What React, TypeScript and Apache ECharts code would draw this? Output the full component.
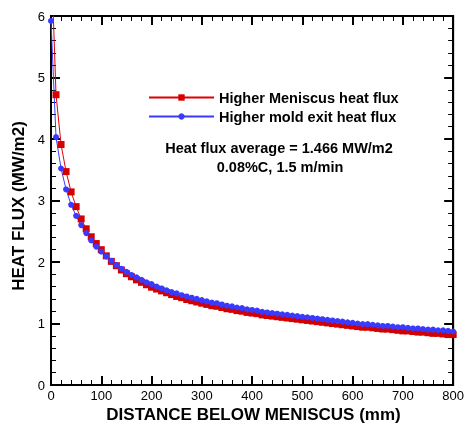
import React, { useEffect, useRef } from "react";
import * as echarts from "echarts";

const distance = [
  0, 10, 20, 30, 40, 50, 60, 70, 80, 90, 100, 110, 120, 130, 140, 150, 160, 170, 180, 190,
  200, 210, 220, 230, 240, 250, 260, 270, 280, 290, 300, 310, 320, 330, 340, 350, 360, 370, 380, 390,
  400, 410, 420, 430, 440, 450, 460, 470, 480, 490, 500, 510, 520, 530, 540, 550, 560, 570, 580, 590,
  600, 610, 620, 630, 640, 650, 660, 670, 680, 690, 700, 710, 720, 730, 740, 750, 760, 770, 780, 790, 800,
];

const meniscusFlux = [
  7.1, 4.72, 3.91, 3.47, 3.14, 2.9, 2.7, 2.54, 2.41, 2.3, 2.2, 2.1, 2.01, 1.94, 1.87, 1.81, 1.76, 1.71, 1.67, 1.63,
  1.59, 1.56, 1.53, 1.5, 1.47, 1.44, 1.42, 1.39, 1.37, 1.35, 1.33, 1.31, 1.29, 1.28, 1.26, 1.24, 1.23, 1.21, 1.2, 1.18,
  1.17, 1.16, 1.14, 1.13, 1.12, 1.11, 1.1, 1.09, 1.08, 1.07, 1.06, 1.05, 1.04, 1.03, 1.02, 1.01, 1.0, 0.99, 0.98, 0.97,
  0.96, 0.95, 0.94, 0.94, 0.93, 0.92, 0.91, 0.91, 0.9, 0.89, 0.88, 0.88, 0.87, 0.86, 0.86, 0.85, 0.84, 0.84, 0.83, 0.82, 0.82,
];

const moldExitFlux = [
  5.92, 4.03, 3.52, 3.18, 2.93, 2.75, 2.6, 2.47, 2.35, 2.25, 2.17, 2.09, 2.02, 1.95, 1.89, 1.84, 1.79, 1.75, 1.71, 1.67,
  1.64, 1.6, 1.57, 1.54, 1.51, 1.49, 1.46, 1.44, 1.42, 1.4, 1.38, 1.36, 1.34, 1.33, 1.31, 1.29, 1.28, 1.26, 1.25, 1.23,
  1.22, 1.21, 1.19, 1.18, 1.17, 1.16, 1.15, 1.14, 1.13, 1.12, 1.11, 1.1, 1.09, 1.08, 1.07, 1.06, 1.05, 1.04, 1.03, 1.02,
  1.01, 1.0, 0.99, 0.99, 0.98, 0.97, 0.96, 0.96, 0.95, 0.94, 0.94, 0.93, 0.92, 0.92, 0.91, 0.9, 0.9, 0.89, 0.89, 0.88, 0.87,
];

const seriesNames = ["Higher Meniscus heat flux", "Higher mold exit heat flux"];
const annotationLines = ["Heat flux average = 1.466 MW/m2", "0.08%C, 1.5 m/min"];
const xTitle = "DISTANCE BELOW MENISCUS (mm)";
const yTitle = "HEAT FLUX (MW/m2)";

const FONT = "'Liberation Sans', Arial, sans-serif";

function st() {
  return {
    axisLine: { show: true, onZero: false, lineStyle: { color: "#000", width: 2 } },
    axisTick: { show: true, inside: true, length: 9, lineStyle: { color: "#000", width: 2 } },
    minorTick: { show: true, splitNumber: 5, length: 5, lineStyle: { color: "#000", width: 1 } },
    splitLine: { show: false },
  };
}

const boldText = { fontFamily: FONT, fontWeight: "bold", fill: "#000" };

export default function App() {
  const ref = useRef<HTMLDivElement>(null);

  useEffect(() => {
    if (!ref.current) return;
    const chart = echarts.init(ref.current, undefined, { renderer: "svg" });

    chart.setOption({
      animation: false,
      grid: [
        {
          left: 51,
          top: 16,
          width: 405,
          height: 369,
          show: true,
          borderColor: "#000",
          borderWidth: 2,
          backgroundColor: "transparent",
        },
      ],
      legend: {
        orient: "vertical",
        left: 148,
        top: 90,
        padding: 0,
        itemWidth: 65,
        itemHeight: 8,
        itemGap: 4,
        data: seriesNames,
        textStyle: { fontFamily: FONT, fontWeight: "bold", fontSize: 14.5, lineHeight: 14, color: "#000" },
      },
      xAxis: [
        {
          gridIndex: 0,
          type: "value",
          min: 0,
          max: 800,
          interval: 100,
          position: "bottom",
          ...st(),
          axisLabel: { color: "#000", fontSize: 13, margin: 4 },
        },
        {
          gridIndex: 0,
          type: "value",
          min: 0,
          max: 800,
          interval: 100,
          position: "top",
          ...st(),
          axisLabel: { show: false },
        },
      ],
      yAxis: [
        {
          gridIndex: 0,
          type: "value",
          min: 0,
          max: 6,
          interval: 1,
          position: "left",
          ...st(),
          axisLabel: { color: "#000", fontSize: 13, margin: 6 },
        },
        {
          gridIndex: 0,
          type: "value",
          min: 0,
          max: 6,
          interval: 1,
          position: "right",
          ...st(),
          axisLabel: { show: false },
        },
      ],
      graphic: [
        {
          type: "text",
          x: 279,
          y: 148,
          style: { ...boldText, text: annotationLines[0], fontSize: 14.5, align: "center", verticalAlign: "middle" },
        },
        {
          type: "text",
          x: 280,
          y: 166.5,
          style: { ...boldText, text: annotationLines[1], fontSize: 14.5, align: "center", verticalAlign: "middle" },
        },
        {
          type: "text",
          x: 253.5,
          y: 414.5,
          style: { ...boldText, text: xTitle, fontSize: 17, align: "center", verticalAlign: "middle" },
        },
        {
          type: "text",
          x: 18,
          y: 206,
          rotation: Math.PI / 2,
          style: { ...boldText, text: yTitle, fontSize: 17, align: "center", verticalAlign: "middle" },
        },
      ],
      series: [
        {
          name: seriesNames[0],
          type: "line",
          xAxisIndex: 0,
          yAxisIndex: 0,
          data: distance.map((d, i) => [d, meniscusFlux[i]]),
          symbol: "rect",
          symbolSize: 7,
          lineStyle: { color: "#e00000", width: 1 },
          itemStyle: { color: "#d40000" },
        },
        {
          name: seriesNames[1],
          type: "line",
          xAxisIndex: 0,
          yAxisIndex: 0,
          data: distance.map((d, i) => [d, moldExitFlux[i]]),
          symbol: "circle",
          symbolSize: 6,
          lineStyle: { color: "#3a3aff", width: 1 },
          itemStyle: { color: "#3a3aff" },
        },
      ],
    });

    return () => chart.dispose();
  }, []);

  return <div ref={ref} style={{ position: "fixed", left: 0, top: 0, width: 467, height: 424 }} />;
}
